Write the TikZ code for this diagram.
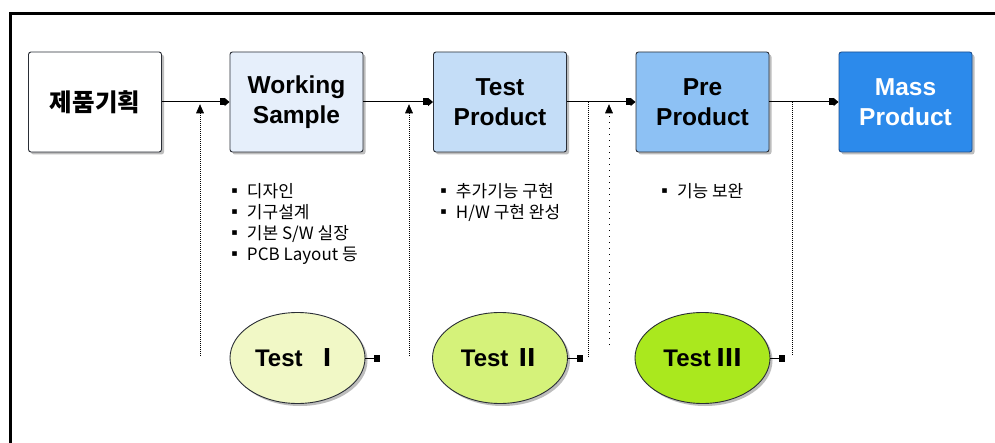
\documentclass[tikz,border=0pt]{standalone}
\usepackage{fontspec}
\setmainfont{Liberation Sans}
\newfontfamily\kr{Noto Sans CJK KR}
\usetikzlibrary{arrows.meta,shapes.geometric,shadows,calc}

\definecolor{boxline}{HTML}{2A2E36}
\definecolor{shade}{HTML}{BDBDBD}
\definecolor{planfill}{HTML}{FFFFFF}
\definecolor{wsfill}{HTML}{E6EFFB}
\definecolor{tpfill}{HTML}{C4DDF7}
\definecolor{ppfill}{HTML}{8DC1F4}
\definecolor{mpfill}{HTML}{2C8AEB}
\definecolor{mpline}{HTML}{1D4F8F}
\definecolor{tone}{HTML}{F1F8C6}
\definecolor{ttwo}{HTML}{D5F27A}
\definecolor{tthree}{HTML}{AAE81E}

\begin{document}
\begin{tikzpicture}[x=1pt,y=-1pt,
  stage/.style={draw=boxline, line width=0.9pt, rounded corners=2.5pt,
    minimum width=133pt, minimum height=100pt, inner sep=0pt, align=center,
    font=\bfseries\fontsize{24.5}{30}\selectfont,
    general shadow={fill=shade, shadow xshift=2.5pt, shadow yshift=-2.5pt}},
  testnode/.style={ellipse, draw=boxline, line width=0.9pt,
    minimum width=135pt, minimum height=91pt, inner sep=0pt,
    font=\bfseries\fontsize{24}{28}\selectfont,
    general shadow={fill=shade, shadow xshift=2.5pt, shadow yshift=-2.5pt}},
  flow/.style={line width=1pt,
    -{Square[length=5pt,width=7pt]Triangle[length=5pt,width=8pt]}},
  feedback/.style={line width=1pt, densely dotted},
  uptip/.style={fill=black, draw=black, line width=0.6pt, line join=miter},
  probe/.style={line width=1pt, -{Square[length=6pt,width=7pt]}},
  notes/.style={anchor=north west, inner sep=0pt, align=left,
    font=\kr\fontsize{17}{21}\selectfont}
]
\useasboundingbox (0,0) rectangle (995,443);
\fill[white] (0,0) rectangle (995,443);

% outer frame, open to the right and bottom
\draw[line width=3pt] (10.5,443) -- (10.5,13.5) -- (995,13.5);

% development stages
\node[stage, fill=planfill] (plan) at (95,102) {\kr 제품기획};
\node[stage, fill=wsfill]   (ws)   at (296.5,102) {Working\\Sample};
\node[stage, fill=tpfill]   (tp)   at (500,102) {Test\\Product};
\node[stage, fill=ppfill]   (pp)   at (702.5,102) {Pre\\Product};
\node[stage, fill=mpfill, draw=mpline, text=white] (mp) at (905.5,102) {Mass\\Product};

% test phases
\node[testnode, fill=tone]   (t1) at (297.5,358) {Test\ \ {\kr Ⅰ}};
\node[testnode, fill=ttwo]   (t2) at (500,358)   {Test {\kr Ⅱ}};
\node[testnode, fill=tthree] (t3) at (702.5,358) {Test {\kr Ⅲ}};

% main flow
\draw[flow] (plan.east) -- (ws.west);
\draw[flow] (ws.east) -- (tp.west);
\draw[flow] (tp.east) -- (pp.west);
\draw[flow] (pp.east) -- (mp.west);

% feedback lines into the main flow
\coordinate (f1b) at (200,356);  \coordinate (f1t) at (200,105);
\coordinate (f2b) at (409,356);  \coordinate (f2t) at (409,105);
\coordinate (f3t) at (588,102);  \coordinate (f3b) at (588,357);
\coordinate (f4b) at (609,345);  \coordinate (f4t) at (609,105);
\coordinate (f5t) at (792,102);  \coordinate (f5b) at (792,356);
\draw[feedback] (f1b) -- ($(f1t)+(0,8)$);
\draw[feedback] (f2b) -- ($(f2t)+(0,8)$);
\draw[feedback] (f3t) -- (f3b);
\draw[feedback, dash pattern=on 1pt off 5pt] (f4b) -- ($(f4t)+(0,8)$);
\draw[feedback] (f5t) -- (f5b);
% solid heads where the feedback lines meet the flow
\foreach \h in {f1t,f2t,f4t}
  \filldraw[uptip] (\h) -- ++(3.5,8) -- ++(-7,0) -- cycle;

% connection stubs on the test phases
\coordinate (p1) at ($(t1.east)+(15,0)$);
\coordinate (p2) at ($(t2.east)+(15,0)$);
\coordinate (p3) at ($(t3.east)+(15,0)$);
\draw[probe] (t1.east) -- (p1);
\draw[probe] (t2.east) -- (p2);
\draw[probe] (t3.east) -- (p3);

% work items per stage
\node[notes] (n1) at (226,183) {▪ 디자인\\▪ 기구설계\\▪ 기본 S/W 실장\\▪ PCB Layout 등};
\node[notes] (n2) at (435,183) {▪ 추가기능 구현\\▪ H/W 구현 완성};
\node[notes] (n3) at (656,183) {▪ 기능 보완};
\end{tikzpicture}
\end{document}
